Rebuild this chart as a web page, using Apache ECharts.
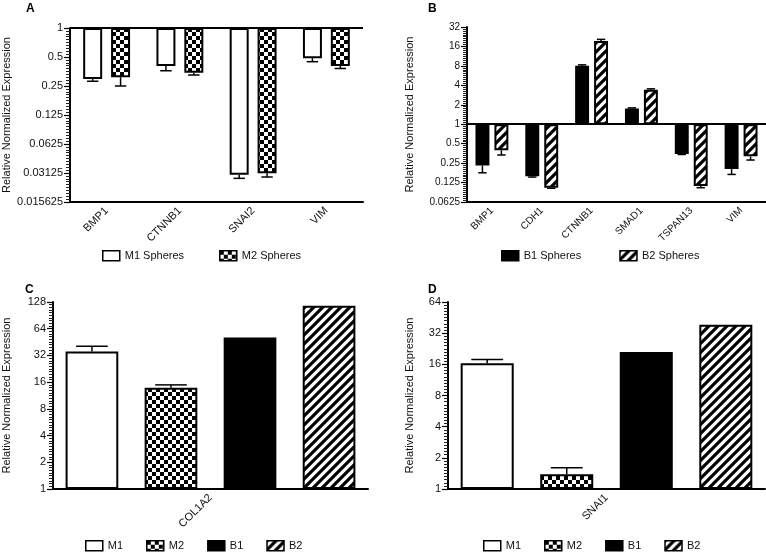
<!DOCTYPE html>
<html>
<head>
<meta charset="utf-8">
<script src="https://cdn.jsdelivr.net/npm/echarts@6/dist/echarts.min.js"></script>
<style>html,body{margin:0;padding:0;background:#fff;}#c{width:766px;height:553px;}</style>
</head>
<body>
<div id="c"></div>
<script>
// ---------- DATA ----------
const catsA = ['BMP1', 'CTNNB1', 'SNAI2', 'VIM'];
const m1A = [0.295, 0.403, 0.030, 0.485];
const m1AErr = [0.28, 0.36, 0.0275, 0.447];
const m2A = [0.308, 0.344, 0.031, 0.403];
const m2AErr = [0.25, 0.325, 0.0284, 0.38];
const ticksA = ['1', '0.5', '0.25', '0.125', '0.0625', '0.03125', '0.015625'];

const catsB = ['BMP1', 'CDH1', 'CTNNB1', 'SMAD1', 'TSPAN13', 'VIM'];
const b1B = [0.23, 0.156, 8.05, 1.75, 0.346, 0.202];
const b1BErr = [0.177, 0.152, 8.3, 1.79, 0.34, 0.167];
const b2B = [0.395, 0.104, 19.5, 3.41, 0.111, 0.318];
const b2BErr = [0.334, 0.102, 20.6, 3.53, 0.104, 0.279];
const ticksB = ['32', '16', '8', '4', '2', '1', '0.5', '0.25', '0.125', '0.0625'];

const groupsCD = ['M1', 'M2', 'B1', 'B2'];
const catC = ['COL1A2'];
const valsC = [35.4, 13.8, 50.9, 116.5];
const errC = [40.6, 14.9, null, null];
const ticksC = ['1', '2', '4', '8', '16', '32', '64', '128'];

const catD = ['SNAI1'];
const valsD = [16.4, 1.39, 21.1, 38.5];
const errD = [17.8, 1.6, null, null];
const ticksD = ['1', '2', '4', '8', '16', '32', '64'];

const legendA = ['M1 Spheres', 'M2 Spheres'];
const legendB = ['B1 Spheres', 'B2 Spheres'];
const yName = 'Relative Normalized Expression';

// log2 axis: the value axis works in log2 units, labels show the original values
const L2 = v => Math.log2(v);

// ---------- PATTERNS ----------
function checker() {
  const c = document.createElement('canvas'); c.width = 8; c.height = 8;
  const g = c.getContext('2d');
  g.fillStyle = '#fff'; g.fillRect(0, 0, 8, 8);
  g.fillStyle = '#000'; g.fillRect(0, 0, 4, 4); g.fillRect(4, 4, 4, 4);
  return { image: c, repeat: 'repeat' };
}
function hatch() {
  const s = 9;
  const c = document.createElement('canvas'); c.width = s; c.height = s;
  const g = c.getContext('2d');
  g.fillStyle = '#fff'; g.fillRect(0, 0, s, s);
  g.strokeStyle = '#000'; g.lineWidth = 3.2;
  g.beginPath();
  g.moveTo(0, s); g.lineTo(s, 0);
  g.moveTo(-s / 2, s / 2); g.lineTo(s / 2, -s / 2);
  g.moveTo(s / 2, s * 1.5); g.lineTo(s * 1.5, s / 2);
  g.stroke();
  return { image: c, repeat: 'repeat' };
}
const styles = {
  white: { color: '#fff', borderColor: '#000', borderWidth: 2 },
  check: { color: checker(), borderColor: '#000', borderWidth: 2 },
  black: { color: '#000', borderColor: '#000', borderWidth: 2 },
  hatch: { color: hatch(), borderColor: '#000', borderWidth: 2 }
};

const FONT = 'Liberation Sans, Arial, sans-serif';
const TXT = '#111';

function yAxis(grid, labels, fs, nameGap) {
  const exps = labels.map(l => L2(+l));
  return {
    type: 'value', gridIndex: grid,
    min: Math.min.apply(null, exps), max: Math.max.apply(null, exps), interval: 1,
    name: yName, nameLocation: 'middle', nameRotate: 90, nameGap: nameGap,
    nameTextStyle: { fontSize: 11, color: TXT, fontFamily: FONT },
    axisLine: { show: true, lineStyle: { color: '#000', width: 2 } },
    axisTick: { show: true, inside: false, length: 6, lineStyle: { color: '#000', width: 1.2 } },
    minorTick: { show: true, splitNumber: 10, length: 4, lineStyle: { color: '#222', width: 1 } },
    axisLabel: {
      fontSize: fs, color: TXT, fontFamily: FONT, margin: 7,
      formatter: v => { const i = exps.findIndex(e => Math.abs(e - v) < 1e-6); return i < 0 ? '' : labels[i]; }
    },
    splitLine: { show: false }
  };
}
function xAxis(grid, cats, fs) {
  return {
    type: 'category', gridIndex: grid, data: cats,
    axisLine: { onZero: false, lineStyle: { color: '#000', width: 2 } },
    axisTick: { alignWithLabel: true, length: 5, lineStyle: { color: '#000', width: 1.5 } },
    axisLabel: { rotate: 45, fontSize: fs, color: TXT, fontFamily: FONT, margin: 7, interval: 0 },
    splitLine: { show: false }
  };
}

function errSeries(name, grid, vals, errs, idx, n, catGap, barGap) {
  const data = [];
  vals.forEach((v, i) => { if (errs[i] != null) data.push([i, L2(v), L2(errs[i])]); });
  return {
    type: 'custom', name: name, xAxisIndex: grid, yAxisIndex: grid, z: 5, silent: true,
    encode: { x: 0, y: [1, 2] },
    data: data,
    renderItem: function (params, api) {
      const x = api.value(0), v = api.value(1), e = api.value(2);
      const p0 = api.coord([x, v]), p1 = api.coord([x, e]);
      const bw = api.size([1, 1])[0];
      const inner = bw * (1 - catGap);
      const w = inner / (n + (n - 1) * barGap);
      const cx = p0[0] - inner / 2 + idx * w * (1 + barGap) + w / 2;
      const cap = w * 0.6;
      const st = { stroke: '#000', lineWidth: 1.5 };
      return {
        type: 'group', children: [
          { type: 'line', shape: { x1: cx, y1: p0[1], x2: cx, y2: p1[1] }, style: st },
          { type: 'line', shape: { x1: cx - cap / 2, y1: p1[1], x2: cx + cap / 2, y2: p1[1] }, style: st }
        ]
      };
    }
  };
}

const markOne = {
  silent: true, symbol: 'none', label: { show: false },
  lineStyle: { color: '#000', width: 2, type: 'solid' },
  data: [{ yAxis: L2(1) }]
};

const gapA = 0.36, bgA = 0.47;
const gapB = 0.34, bgB = 0.36;
const gapC = 0.08, bgC = 0.5;

function bar(name, grid, vals, style, gap, bg, extra) {
  return Object.assign({
    type: 'bar', name: name, xAxisIndex: grid, yAxisIndex: grid, data: vals.map(L2),
    itemStyle: style, barCategoryGap: (gap * 100) + '%', barGap: (bg * 100) + '%'
  }, extra || {});
}

const series = [];
// Panel A
series.push(bar(legendA[0], 0, m1A, styles.white, gapA, bgA, { markLine: markOne }));
series.push(bar(legendA[1], 0, m2A, styles.check, gapA, bgA));
series.push(errSeries('eA1', 0, m1A, m1AErr, 0, 2, gapA, bgA));
series.push(errSeries('eA2', 0, m2A, m2AErr, 1, 2, gapA, bgA));
// Panel B
series.push(bar(legendB[0], 1, b1B, styles.black, gapB, bgB, { markLine: markOne }));
series.push(bar(legendB[1], 1, b2B, styles.hatch, gapB, bgB));
series.push(errSeries('eB1', 1, b1B, b1BErr, 0, 2, gapB, bgB));
series.push(errSeries('eB2', 1, b2B, b2BErr, 1, 2, gapB, bgB));
// Panels C, D
const cdStyles = [styles.white, styles.check, styles.black, styles.hatch];
[[2, valsC, errC], [3, valsD, errD]].forEach(([g, vals, errs]) => {
  groupsCD.forEach((nm, i) => {
    series.push(bar(nm, g, [vals[i]], cdStyles[i], gapC, bgC));
  });
  groupsCD.forEach((nm, i) => {
    if (errs[i] != null) series.push(errSeries('e' + g + nm, g, [vals[i]], [errs[i]], i, 4, gapC, bgC));
  });
});

function legend(data, left, top, gap) {
  return {
    data: data, left: left, top: top, padding: 0, itemGap: gap, itemWidth: 17, itemHeight: 10,
    icon: 'rect', selectedMode: false,
    itemStyle: { borderColor: '#000', borderWidth: 1.5 },
    textStyle: { fontSize: 11, color: TXT, fontFamily: FONT }
  };
}
function letter(t, left, top) {
  return { text: t, left: left, top: top, padding: 0, textStyle: { fontSize: 12, fontWeight: 'bold', color: '#000', fontFamily: FONT } };
}

const option = {
  animation: false,
  backgroundColor: '#fff',
  title: [letter('A', 26, 3), letter('B', 428, 3), letter('C', 25, 284), letter('D', 428, 284)],
  grid: [
    { left: 68, top: 28, width: 295, height: 174 },
    { left: 467, top: 27, width: 299, height: 175 },
    { left: 49, top: 302, width: 319, height: 187 },
    { left: 448, top: 302, width: 317, height: 187 }
  ],
  xAxis: [xAxis(0, catsA, 11), xAxis(1, catsB, 10), xAxis(2, catC, 11), xAxis(3, catD, 11)],
  yAxis: [yAxis(0, ticksA, 11, 58), yAxis(1, ticksB, 10, 52), yAxis(2, ticksC, 11, 41), yAxis(3, ticksD, 11, 33)],
  legend: [
    legend(legendA, 102, 250, 35),
    legend(legendB, 501, 250, 38),
    legend(groupsCD, 85, 540, 23),
    legend(groupsCD, 483, 540, 23)
  ],
  series: series
};
const chart = echarts.init(document.getElementById('c'), null, { renderer: 'canvas' });
chart.setOption(option);
</script>
</body>
</html>
